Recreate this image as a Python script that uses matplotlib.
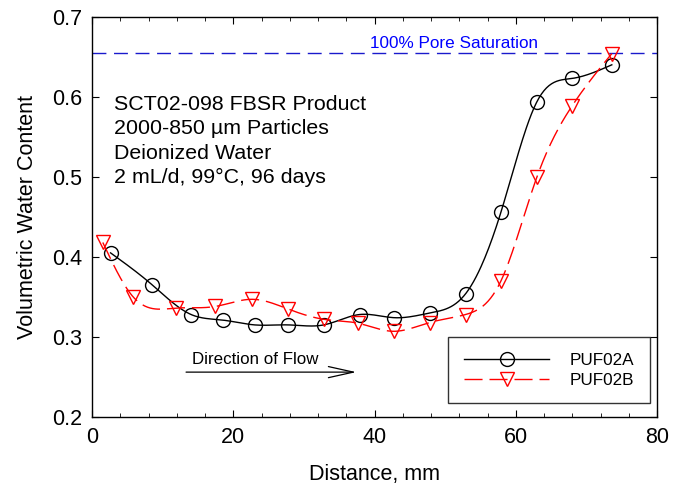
import matplotlib
matplotlib.use("Agg")
import matplotlib.pyplot as plt
import numpy as np
from matplotlib.ticker import MultipleLocator

plt.rcParams['font.family'] = ['Liberation Sans', 'DejaVu Sans']

# data
dist_a = [2.6, 8.5, 14.0, 18.5, 23.0, 27.8, 32.8, 37.9, 42.8, 47.9, 52.9, 57.9, 63.0, 68.0, 73.6]
puf02a = [0.405, 0.365, 0.328, 0.321, 0.315, 0.315, 0.315, 0.328, 0.324, 0.330, 0.354, 0.456, 0.594, 0.623, 0.640]
dist_b = [1.5, 5.8, 11.8, 17.4, 22.7, 27.7, 32.8, 37.7, 42.7, 47.8, 52.9, 57.9, 63.0, 68.0, 73.6]
puf02b = [0.418, 0.350, 0.336, 0.338, 0.347, 0.335, 0.322, 0.317, 0.307, 0.318, 0.328, 0.370, 0.500, 0.589, 0.654]
saturation = 0.655
notes = ['SCT02-098 FBSR Product', '2000-850 \u00b5m Particles', 'Deionized Water',
         '2 mL/d, 99\u00b0C, 96 days']


def spline(x, y, n=400):
    # natural cubic spline, just for drawing the smooth curve
    x = np.asarray(x, float)
    y = np.asarray(y, float)
    k = len(x)
    h = np.diff(x)
    A = np.zeros((k, k))
    r = np.zeros(k)
    A[0, 0] = A[-1, -1] = 1
    for i in range(1, k - 1):
        A[i, i - 1] = h[i - 1]
        A[i, i] = 2 * (h[i - 1] + h[i])
        A[i, i + 1] = h[i]
        r[i] = 3 * ((y[i + 1] - y[i]) / h[i] - (y[i] - y[i - 1]) / h[i - 1])
    c = np.linalg.solve(A, r)
    b = (y[1:] - y[:-1]) / h - h * (2 * c[:-1] + c[1:]) / 3
    d = (c[1:] - c[:-1]) / (3 * h)
    xs = np.linspace(x[0], x[-1], n)
    idx = np.clip(np.searchsorted(x, xs) - 1, 0, k - 2)
    t = xs - x[idx]
    ys = y[idx] + b[idx] * t + c[idx] * t ** 2 + d[idx] * t ** 3
    return xs, ys


fig = plt.figure(figsize=(6.78, 4.94), dpi=100)
ax = fig.add_axes([0.136, 0.156, 0.833, 0.81])

ax.axhline(saturation, color='#1a1acc', lw=1.0, dashes=(10, 5.5))
ax.text(39.4, saturation + 0.002, '100% Pore Saturation', color='#0000ff', fontsize=12.3,
        va='bottom')

xs, ys = spline(dist_a, puf02a)
ax.plot(xs, ys, color='black', lw=1.0)
ax.plot(dist_a, puf02a, 'o', ms=10, mfc='none', mec='black', mew=1.0)

xs, ys = spline(dist_b, puf02b)
ax.plot(xs, ys, color='red', lw=1.0, dashes=(13, 5))
ax.plot(dist_b, puf02b, 'v', ms=10, mfc='none', mec='red', mew=1.0)

# legend proxies
ax.plot([], [], color='black', lw=1.0, marker='o', ms=10, mfc='none', label='PUF02A')
ax.plot([], [], color='red', lw=1.0, dashes=(13, 5), marker='v', ms=10, mfc='none', label='PUF02B')
leg = ax.legend(loc='lower right', bbox_to_anchor=(0.987, 0.034), fontsize=12.3,
                frameon=True, fancybox=False, edgecolor='black', borderpad=0.9,
                handlelength=5.0, labelspacing=0.3, borderaxespad=0, handletextpad=1.2)
leg.get_frame().set_linewidth(1.0)

for i, line in enumerate(notes):
    ax.text(3.1, 0.584 - 0.0307 * i, line, fontsize=15.4, va='baseline', ha='left')

ax.annotate('', xy=(37.8, 0.256), xytext=(12.9, 0.256),
            arrowprops=dict(arrowstyle='->,head_length=1.8,head_width=0.4', color='black', lw=0.9))
ax.text(14.1, 0.263, 'Direction of Flow', fontsize=12.2, va='bottom')

ax.set_xlim(0, 80)
ax.set_ylim(0.2, 0.7)
ax.xaxis.set_major_locator(MultipleLocator(20))
ax.xaxis.set_minor_locator(MultipleLocator(4))
ax.yaxis.set_major_locator(MultipleLocator(0.1))
ax.tick_params(which='both', direction='in', top=True, right=True, labelsize=15.5, pad=7)
ax.tick_params(which='major', length=5)
ax.tick_params(which='minor', length=3)
ax.set_xlabel('Distance, mm', fontsize=15.5, labelpad=12)
ax.set_ylabel('Volumetric Water Content', fontsize=15.5, labelpad=10)
for s in ax.spines.values():
    s.set_linewidth(1.0)

fig.savefig('out.png', dpi=100)
